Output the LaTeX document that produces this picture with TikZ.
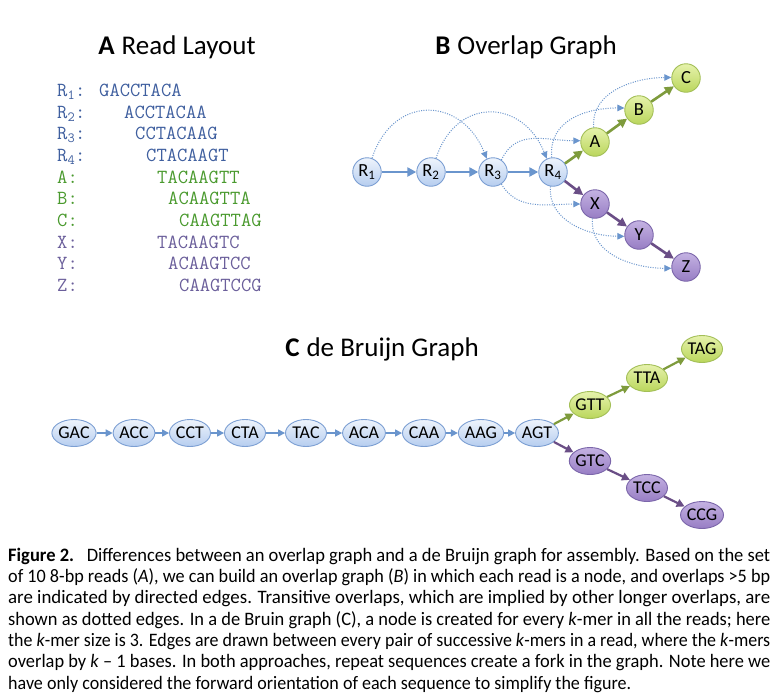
\documentclass[tikz,border=0pt]{standalone}
\usepackage{fontspec}
\setmainfont{Carlito}
\usetikzlibrary{arrows.meta,shapes.geometric,shadings}
\definecolor{bBorder}{HTML}{7C9FD3}
\definecolor{bTop}{HTML}{EEF4FC}
\definecolor{bBot}{HTML}{B6CDEF}
\definecolor{gBorder}{HTML}{A3BF57}
\definecolor{gTop}{HTML}{E6F2AC}
\definecolor{gBot}{HTML}{BAD65C}
\definecolor{pBorder}{HTML}{7B66AA}
\definecolor{pTop}{HTML}{C4B2E2}
\definecolor{pBot}{HTML}{977DC4}
\definecolor{bArrow}{HTML}{6A95CD}
\definecolor{gArrow}{HTML}{7E9B3C}
\definecolor{pArrow}{HTML}{6A4E86}
\definecolor{seqBlue}{HTML}{3F5F9F}
\definecolor{seqGreen}{HTML}{4A9A2E}
\definecolor{seqPurple}{HTML}{6B5F9B}
\begin{document}
\begin{tikzpicture}[x=1pt,y=1pt,
  onode/.style={circle, minimum size=28.5pt, inner sep=0pt, line width=0.9pt, font=\fontsize{18.5}{18.5}\selectfont},
  dnode/.style={ellipse, minimum width=41pt, minimum height=27pt, inner sep=0pt, line width=0.9pt, font=\fontsize{18}{18}\selectfont},
  bnode/.style={draw=bBorder, top color=bTop, bottom color=bBot},
  gnode/.style={draw=gBorder, top color=gTop, bottom color=gBot},
  pnode/.style={draw=pBorder, top color=pTop, bottom color=pBot},
  bthick/.style={draw=bArrow, line width=2.6pt, -{Triangle[length=9pt,width=9pt]}},
  gthick/.style={draw=gArrow, line width=2.6pt, -{Triangle[length=9pt,width=9pt]}},
  pthick/.style={draw=pArrow, line width=2.6pt, -{Triangle[length=9pt,width=9pt]}},
  bthin/.style={draw=bArrow, line width=1.5pt, -{Triangle[length=7pt,width=7pt]}},
  gmid/.style={draw=gArrow, line width=2.2pt, -{Triangle[length=8pt,width=8pt]}},
  pmid/.style={draw=pArrow, line width=2.2pt, -{Triangle[length=8pt,width=8pt]}},
  dotedge/.style={draw=bArrow, line width=1pt, dash pattern=on 1pt off 1.4pt, -{Triangle[length=7pt,width=6.5pt]}},
  title/.style={font=\fontsize{27}{27}\selectfont, inner sep=0pt},
  seq/.style={font=\ttfamily\fontsize{20}{20}\selectfont, anchor=base west, inner sep=0pt},
  capline/.style={anchor=base west, inner sep=0pt}
]
\useasboundingbox (0,0) rectangle (778,-697);
\fill[white] (0,0) rectangle (778,-697);

% ---------- Titles ----------
\node[title] (tA) at (177,-47) {\textbf{A}\hspace{7pt}Read Layout};
\node[title] (tB) at (526,-47) {\textbf{B}\hspace{7pt}Overlap Graph};
\node[title] (tC) at (382,-349) {\textbf{C}\hspace{7pt}de Bruijn Graph};

% ---------- A: Read layout ----------
\node[seq, text=seqBlue] (lR1) at (57,-96) {R\textsubscript{1}:};
\node[seq, text=seqBlue] (sR1) at (99,-96) {GACCTACA};
\node[seq, text=seqBlue] (lR2) at (57,-118) {R\textsubscript{2}:};
\node[seq, text=seqBlue] (sR2) at (124,-118) {ACCTACAA};
\node[seq, text=seqBlue] (lR3) at (57,-139) {R\textsubscript{3}:};
\node[seq, text=seqBlue] (sR3) at (135,-139) {CCTACAAG};
\node[seq, text=seqBlue] (lR4) at (57,-161) {R\textsubscript{4}:};
\node[seq, text=seqBlue] (sR4) at (146,-161) {CTACAAGT};
\node[seq, text=seqGreen] (lA) at (57,-183) {A:};
\node[seq, text=seqGreen] (sA) at (157,-183) {TACAAGTT};
\node[seq, text=seqGreen] (lB) at (57,-204) {B:};
\node[seq, text=seqGreen] (sB) at (168,-204) {ACAAGTTA};
\node[seq, text=seqGreen] (lC) at (57,-226) {C:};
\node[seq, text=seqGreen] (sC) at (179,-226) {CAAGTTAG};
\node[seq, text=seqPurple] (lX) at (57,-248) {X:};
\node[seq, text=seqPurple] (sX) at (157,-248) {TACAAGTC};
\node[seq, text=seqPurple] (lY) at (57,-269) {Y:};
\node[seq, text=seqPurple] (sY) at (168,-269) {ACAAGTCC};
\node[seq, text=seqPurple] (lZ) at (57,-291) {Z:};
\node[seq, text=seqPurple] (sZ) at (179,-291) {CAAGTCCG};

% ---------- B: Overlap graph ----------
\node[onode,bnode] (R1) at (367,-172) {R\textsubscript{1}};
\node[onode,bnode] (R2) at (431,-172) {R\textsubscript{2}};
\node[onode,bnode] (R3) at (493,-172) {R\textsubscript{3}};
\node[onode,bnode] (R4) at (553,-172) {R\textsubscript{4}};
\node[onode,gnode] (A) at (595,-142) {A};
\node[onode,gnode] (B) at (639,-110) {B};
\node[onode,gnode] (C) at (686,-78) {C};
\node[onode,pnode] (X) at (595,-204) {X};
\node[onode,pnode] (Y) at (639,-235) {Y};
\node[onode,pnode] (Z) at (686,-267) {Z};

\draw[dotedge] (R1.70) to[out=72,in=112,looseness=1.5] (R3.115);
\draw[dotedge] (R2.70) to[out=72,in=112,looseness=1.5] (R4.115);
\draw[dotedge] (R3.55) to[out=65,in=180,looseness=1.1] (A.175);
\draw[dotedge] (R4.95) to[out=95,in=180,looseness=1.1] (B.172);
\draw[dotedge] (A.95) to[out=95,in=180] (C.178);
\draw[dotedge] (R3.-55) to[out=-60,in=180] (X.180);
\draw[dotedge] (R4.-100) to[out=-95,in=180] (Y.185);
\draw[dotedge] (X.-100) to[out=-95,in=180] (Z.185);

\draw[bthick] (R1) -- (R2);
\draw[bthick] (R2) -- (R3);
\draw[bthick] (R3) -- (R4);
\draw[gthick] (R4) -- (A);
\draw[gthick] (A) -- (B);
\draw[gthick] (B) -- (C);
\draw[pthick] (R4) -- (X);
\draw[pthick] (X) -- (Y);
\draw[pthick] (Y) -- (Z);

% ---------- C: de Bruijn graph ----------
\node[dnode,bnode] (GAC) at (74,-433) {GAC};
\node[dnode,bnode] (ACC) at (134,-433) {ACC};
\node[dnode,bnode] (CCT) at (190,-433) {CCT};
\node[dnode,bnode] (CTA) at (245,-433) {CTA};
\node[dnode,bnode] (TAC) at (306,-433) {TAC};
\node[dnode,bnode] (ACA) at (364,-433) {ACA};
\node[dnode,bnode] (CAA) at (424,-433) {CAA};
\node[dnode,bnode] (AAG) at (481,-433) {AAG};
\node[dnode,bnode] (AGT) at (537,-433) {AGT};
\node[dnode,gnode] (GTT) at (590,-405) {GTT};
\node[dnode,gnode] (TTA) at (647,-378) {TTA};
\node[dnode,gnode] (TAG) at (702,-349) {TAG};
\node[dnode,pnode] (GTC) at (590,-461) {GTC};
\node[dnode,pnode] (TCC) at (647,-488) {TCC};
\node[dnode,pnode] (CCG) at (702,-515) {CCG};

\draw[bthin] (GAC) -- (ACC);
\draw[bthin] (ACC) -- (CCT);
\draw[bthin] (CCT) -- (CTA);
\draw[bthin] (CTA) -- (TAC);
\draw[bthin] (TAC) -- (ACA);
\draw[bthin] (ACA) -- (CAA);
\draw[bthin] (CAA) -- (AAG);
\draw[bthin] (AAG) -- (AGT);
\draw[gmid] (AGT) -- (GTT);
\draw[gmid] (GTT) -- (TTA);
\draw[gmid] (TTA) -- (TAG);
\draw[pmid] (AGT) -- (GTC);
\draw[pmid] (GTC) -- (TCC);
\draw[pmid] (TCC) -- (CCG);

% ---------- Caption ----------
\node[capline] (c1) at (8,-561) {\resizebox{762pt}{\height}{\fontsize{19}{19}\selectfont\textbf{Figure 2.}\hspace{13pt}Differences between an overlap graph and a de Bruijn graph for assembly. Based on the set}};
\node[capline] (c2) at (8,-582.3) {\resizebox{762pt}{\height}{\fontsize{19}{19}\selectfont of 10 8-bp reads (\textit{A}), we can build an overlap graph (\textit{B}) in which each read is a node, and overlaps >5 bp}};
\node[capline] (c3) at (8,-603.7) {\resizebox{762pt}{\height}{\fontsize{19}{19}\selectfont are indicated by directed edges. Transitive overlaps, which are implied by other longer overlaps, are}};
\node[capline] (c4) at (8,-625) {\resizebox{762pt}{\height}{\fontsize{19}{19}\selectfont shown as dotted edges. In a de Bruin graph (C), a node is created for every \textit{k}-mer in all the reads; here}};
\node[capline] (c5) at (8,-646.4) {\resizebox{762pt}{\height}{\fontsize{19}{19}\selectfont the \textit{k}-mer size is 3. Edges are drawn between every pair of successive \textit{k}-mers in a read, where the \textit{k}-mers}};
\node[capline] (c6) at (8,-667.7) {\resizebox{762pt}{\height}{\fontsize{19}{19}\selectfont overlap by \textit{k} – 1 bases. In both approaches, repeat sequences create a fork in the graph. Note here we}};
\node[capline] (c7) at (8,-689) {\resizebox{623pt}{\height}{\fontsize{19}{19}\selectfont have only considered the forward orientation of each sequence to simplify the figure.}};
\end{tikzpicture}
\end{document}
